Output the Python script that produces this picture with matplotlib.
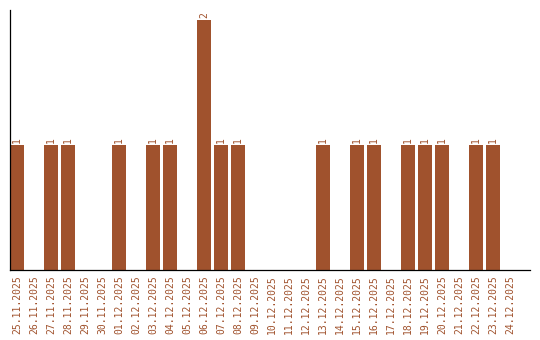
import matplotlib
matplotlib.use("Agg")
import matplotlib.pyplot as plt

dates = ["25.11.2025", "26.11.2025", "27.11.2025", "28.11.2025", "29.11.2025",
         "30.11.2025", "01.12.2025", "02.12.2025", "03.12.2025", "04.12.2025",
         "05.12.2025", "06.12.2025", "07.12.2025", "08.12.2025", "09.12.2025",
         "10.12.2025", "11.12.2025", "12.12.2025", "13.12.2025", "14.12.2025",
         "15.12.2025", "16.12.2025", "17.12.2025", "18.12.2025", "19.12.2025",
         "20.12.2025", "21.12.2025", "22.12.2025", "23.12.2025", "24.12.2025"]
counts = [1, 0, 1, 1, 0, 0, 1, 0, 1, 1, 0, 2, 1, 1, 0, 0, 0, 0, 1, 0,
          1, 1, 0, 1, 1, 1, 0, 1, 1, 0]

color = "#A0522D"
W, H = 540, 340
fig = plt.figure(figsize=(W / 100, H / 100), dpi=100)
ax = fig.add_axes([10 / W, (H - 270) / H, 520 / W, 260 / H])

x = list(range(len(dates)))
ax.bar(x, counts, width=14 / 17, color=color)
for xi, v in zip(x, counts):
    if v > 0:
        ax.text(xi, v + 0.02, str(v), rotation=90, ha="center", va="bottom",
                color=color, fontsize=7, family="DejaVu Sans Mono")

ax.set_xlim(-7 / 17, 513 / 17)
ax.set_ylim(0, 2 + 10 / 125)
ax.set_xticks(x)
ax.set_xticklabels(dates, rotation=90, color=color, fontsize=7,
                   family="DejaVu Sans Mono")
ax.tick_params(axis="x", length=0, pad=4)
ax.set_yticks([])
ax.spines["top"].set_visible(False)
ax.spines["right"].set_visible(False)
for s in ("left", "bottom"):
    ax.spines[s].set_color("black")
    ax.spines[s].set_linewidth(0.9)

fig.savefig("out.png", dpi=100)
